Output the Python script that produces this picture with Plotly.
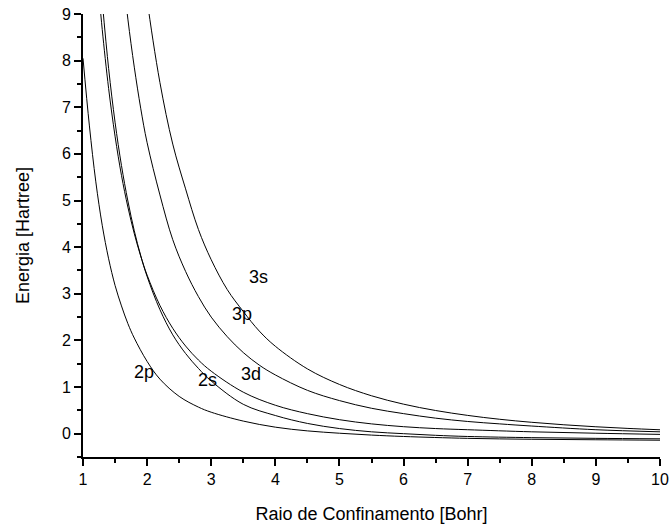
import plotly.graph_objects as go

# Confinement radius (Bohr) sample points and energies (Hartree)
x_2p = [1.0, 1.1, 1.2, 1.3, 1.4, 1.5, 1.6, 1.7, 1.8, 2.0, 2.2, 2.5, 2.8, 3.0, 3.5, 4.0, 4.5, 5.0, 5.5, 6.0, 7.0, 8.0, 9.0, 10.0]
y_2p = [8.05, 6.6, 5.4, 4.47, 3.75, 3.18, 2.74, 2.36, 2.05, 1.55, 1.17, 0.80, 0.57, 0.46, 0.27, 0.14, 0.06, 0.01, -0.03, -0.06, -0.10, -0.12, -0.13, -0.14]

x_2s = [1.3, 1.4, 1.5, 1.6, 1.7, 1.8, 1.9, 2.0, 2.2, 2.4, 2.6, 2.8, 3.0, 3.5, 4.0, 4.5, 5.0, 5.5, 6.0, 6.5, 7.0, 8.0, 9.0, 10.0]
y_2s = [9.27, 7.83, 6.68, 5.75, 4.99, 4.35, 3.82, 3.37, 2.66, 2.12, 1.72, 1.40, 1.13, 0.63, 0.39, 0.22, 0.11, 0.04, 0.0, -0.035, -0.06, -0.085, -0.10, -0.11]

x_3d = [1.25, 1.3, 1.4, 1.5, 1.6, 1.7, 1.8, 1.9, 2.0, 2.2, 2.4, 2.6, 2.8, 3.0, 3.5, 4.0, 4.5, 5.0, 5.5, 6.0, 6.5, 7.0, 8.0, 9.0, 10.0]
y_3d = [9.42, 8.67, 7.40, 6.38, 5.54, 4.86, 4.29, 3.81, 3.40, 2.75, 2.26, 1.88, 1.58, 1.34, 0.89, 0.61, 0.43, 0.30, 0.21, 0.15, 0.11, 0.085, 0.04, 0.01, -0.015]

x_3p = [1.6, 1.7, 1.8, 1.9, 2.0, 2.2, 2.4, 2.6, 2.8, 3.0, 3.25, 3.5, 3.75, 4.0, 4.5, 5.0, 5.5, 6.0, 6.5, 7.0, 7.5, 8.0, 9.0, 10.0]
y_3p = [10.13, 8.89, 7.86, 6.98, 6.24, 5.12, 4.16, 3.48, 2.94, 2.50, 2.08, 1.74, 1.47, 1.26, 0.93, 0.71, 0.545, 0.43, 0.333, 0.262, 0.21, 0.164, 0.085, 0.04]

x_3s = [1.9, 2.0, 2.2, 2.4, 2.6, 2.8, 3.0, 3.25, 3.5, 3.75, 4.0, 4.5, 5.0, 5.5, 6.0, 6.5, 7.0, 7.5, 8.0, 8.5, 9.0, 9.5, 10.0]
y_3s = [10.41, 9.3, 7.53, 6.21, 5.25, 4.38, 3.73, 3.09, 2.62, 2.20, 1.875, 1.39, 1.056, 0.813, 0.633, 0.497, 0.392, 0.309, 0.244, 0.191, 0.148, 0.113, 0.084]

labels = ["2p", "2s", "3d", "3p", "3s"]
label_x = [1.95, 2.94, 3.62, 3.48, 3.74]
label_y = [1.32, 1.15, 1.29, 2.57, 3.37]

x_ticks = [1, 2, 3, 4, 5, 6, 7, 8, 9, 10]
y_ticks = [0, 1, 2, 3, 4, 5, 6, 7, 8, 9]

FONT = "Liberation Sans, Arial, sans-serif"

fig = go.Figure()
for xs, ys, name in [(x_2p, y_2p, "2p"), (x_2s, y_2s, "2s"), (x_3d, y_3d, "3d"),
                     (x_3p, y_3p, "3p"), (x_3s, y_3s, "3s")]:
    fig.add_trace(go.Scatter(x=xs, y=ys, mode="lines", name=name,
                             line=dict(color="black", width=1, shape="spline", smoothing=1.0),
                             showlegend=False, hoverinfo="skip"))

for t, lx, ly in zip(labels, label_x, label_y):
    fig.add_annotation(x=lx, y=ly, text=t, showarrow=False,
                       font=dict(family=FONT, size=18, color="black"),
                       xanchor="center", yanchor="middle")

axis_common = dict(showgrid=False, zeroline=False, showline=True, linecolor="black",
                   linewidth=2, ticks="outside", ticklen=7, tickwidth=2, tickcolor="black",
                   tickfont=dict(family=FONT, size=16, color="black"), mirror=False,
                   automargin=False)

fig.update_xaxes(range=[1, 10], tickvals=x_ticks, ticktext=[str(v) for v in x_ticks],
                 minor=dict(dtick=0.5, ticklen=4, tickwidth=2, tickcolor="black", ticks="outside"),
                 title=dict(text="Raio de Confinamento [Bohr]", font=dict(family=FONT, size=18, color="black"), standoff=20),
                 **axis_common)
fig.update_yaxes(range=[-0.5, 9], tickvals=y_ticks, ticktext=[str(v) for v in y_ticks],
                 minor=dict(dtick=0.5, tick0=0, ticklen=4, tickwidth=2, tickcolor="black", ticks="outside"),
                 title=dict(text="Energia [Hartree]", font=dict(family=FONT, size=18, color="black"), standoff=28),
                 **axis_common)

fig.update_layout(width=669, height=530, margin=dict(l=83, r=9, t=14, b=73),
                  plot_bgcolor="white", paper_bgcolor="white")

fig.write_html("out.html")
